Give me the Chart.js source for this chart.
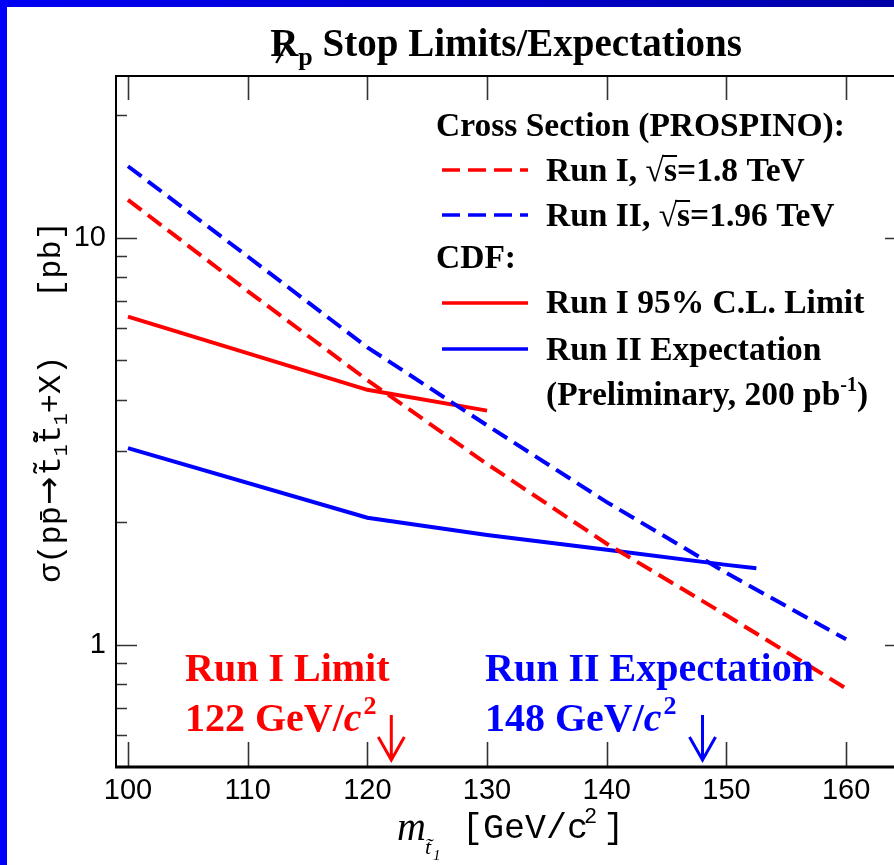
<!DOCTYPE html>
<html><head><meta charset="utf-8">
<script src="https://cdn.jsdelivr.net/npm/chart.js@4.4.0/dist/chart.umd.min.js"></script>
<style>
html,body{margin:0;padding:0;background:#fff;overflow:hidden;width:894px;height:865px;}
#wrap{position:absolute;left:0;top:0;width:910px;height:865px;}
#bl{position:absolute;left:0;top:0;width:7px;height:865px;background:#0000ff;z-index:2}
#bt{position:absolute;left:0;top:0;width:894px;height:7px;background:linear-gradient(to right,#0000f4,#0000a8);z-index:2}
</style></head><body>
<div id="wrap"><canvas id="c" width="910" height="865"></canvas></div>
<div id="bl"></div><div id="bt"></div>
<script>
// ---- data ----
const massXsec = [100, 110, 120, 130, 140, 150, 160];
const xsecRunI = [12.4, 7.4, 4.47, 2.78, 1.77, 1.18, 0.78];
const xsecRunII = [15.0, 9.0, 5.38, 3.46, 2.24, 1.50, 1.03];
const massLimitRunI = [100, 120, 130];
const limitRunI = [6.4, 4.23, 3.76];
const massExpRunII = [100, 120, 130, 140, 150, 152.5];
const expRunII = [3.04, 2.05, 1.86, 1.71, 1.57, 1.54];
const xTicks = [100, 110, 120, 130, 140, 150, 160];
const yMajorTicks = [1, 10];
const yMinorTicks = [0.6, 0.7, 0.8, 0.9, 2, 3, 4, 5, 6, 7, 8, 9, 20];
const massLimits = [122, 148];
const titleMain = 'Stop Limits/Expectations';
const legendHead1 = 'Cross Section (PROSPINO):';
const legendHead2 = 'CDF:';
const seriesLabels = ['Run I, √s=1.8 TeV', 'Run II, √s=1.96 TeV', 'Run I 95% C.L. Limit', 'Run II Expectation'];
const legendNote = '(Preliminary, 200 pb';
const annotLabels = ['Run I Limit', 'Run II Expectation'];

const RED = '#ff0000', BLUE = '#0000ff';
const SERIF = '"Liberation Serif", "Times New Roman", serif';
const SANS = '"Liberation Sans", Arial, sans-serif';
const MONO = '"Liberation Mono", "DejaVu Sans Mono", monospace';

function toXY(xs, ys){ return xs.map((x,i)=>({x:x, y:ys[i]})); }

function segWidth(ctx, segs){
  let w = 0;
  segs.forEach(s=>{ ctx.font = s.font; w += ctx.measureText(s.t).width + (s.dx||0); });
  return w;
}
function drawSegs(ctx, x, y, segs, color){
  ctx.fillStyle = color; ctx.textBaseline = 'alphabetic'; ctx.textAlign = 'left';
  let cx = x;
  const pos = [];
  segs.forEach(s=>{
    ctx.font = s.font;
    cx += (s.dx||0);
    ctx.fillText(s.t, cx, y + (s.dy||0));
    const w = ctx.measureText(s.t).width;
    pos.push({x:cx, w:w});
    cx += w;
  });
  return pos;
}

const decor = {
  id: 'decor',
  afterDatasetsDraw(chart){
    const ctx = chart.ctx, a = chart.chartArea;
    const xs = chart.scales.x, ys = chart.scales.y;
    ctx.save();
    ctx.strokeStyle = '#333'; ctx.lineWidth = 1.6;
    ctx.beginPath();
    xTicks.forEach(v=>{
      const px = Math.round(xs.getPixelForValue(v)) + 0.5;
      ctx.moveTo(px, a.bottom); ctx.lineTo(px, a.bottom - 25);
      ctx.moveTo(px, a.top); ctx.lineTo(px, a.top + 24);
    });
    yMajorTicks.forEach(v=>{
      const py = Math.round(ys.getPixelForValue(v)) + 0.5;
      ctx.moveTo(a.left, py); ctx.lineTo(a.left + 21, py);
      ctx.moveTo(a.right, py); ctx.lineTo(a.right - 21, py);
    });
    yMinorTicks.forEach(v=>{
      const py = Math.round(ys.getPixelForValue(v)) + 0.5;
      ctx.moveTo(a.left, py); ctx.lineTo(a.left + 11, py);
      ctx.moveTo(a.right, py); ctx.lineTo(a.right - 11, py);
    });
    ctx.stroke();
    ctx.strokeStyle = '#000';
    ctx.lineWidth = 2;
    ctx.beginPath();
    ctx.moveTo(a.left, a.bottom); ctx.lineTo(a.left, a.top); ctx.lineTo(a.right, a.top); ctx.lineTo(a.right, a.bottom);
    ctx.stroke();
    ctx.lineWidth = 3;
    ctx.beginPath(); ctx.moveTo(a.left - 1, a.bottom); ctx.lineTo(a.right, a.bottom); ctx.stroke();
    ctx.restore();
  },
  afterDraw(chart){
    const ctx = chart.ctx, a = chart.chartArea;
    const xs = chart.scales.x;
    ctx.save();
    // ---- title ----
    const tf = 'bold 39px ' + SERIF;
    const tsub = 'bold 26px ' + SERIF;
    const tsegs = [{t:'R', font:tf}, {t:'p', font:tsub, dy:9, dx:0}, {t:' ' + titleMain, font:tf}];
    const tw = segWidth(ctx, tsegs);
    const tx = 506 - tw/2, tyb = 56;
    const tp = drawSegs(ctx, tx, tyb, tsegs, '#000');
    ctx.strokeStyle = '#000'; ctx.lineWidth = 2.2;
    ctx.beginPath(); ctx.moveTo(tp[0].x + 6, tyb + 7); ctx.lineTo(tp[0].x + 19, tyb - 16); ctx.stroke();

    // ---- legend ----
    const lf = 'bold 33.5px ' + SERIF;
    const lsup = 'bold 20px ' + SERIF;
    drawSegs(ctx, 436, 136, [{t:legendHead1, font:lf}], '#000');
    drawSegs(ctx, 436, 268, [{t:legendHead2, font:lf}], '#000');
    const rows = [
      {y:181, ly:170, color:RED, dash:[18,8], label:seriesLabels[0]},
      {y:226, ly:215, color:BLUE, dash:[18,8], label:seriesLabels[1]},
      {y:313, ly:303, color:RED, dash:[], label:seriesLabels[2]},
      {y:360, ly:349, color:BLUE, dash:[], label:seriesLabels[3]}
    ];
    rows.forEach(r=>{
      ctx.strokeStyle = r.color; ctx.lineWidth = 3.5; ctx.setLineDash(r.dash);
      ctx.beginPath(); ctx.moveTo(442, r.ly); ctx.lineTo(528, r.ly); ctx.stroke();
      ctx.setLineDash([]);
      const k = r.label.indexOf('√s');
      if (k >= 0){
        const segs = [{t:r.label.slice(0,k+1), font:lf}, {t:'s', font:lf}, {t:r.label.slice(k+2), font:lf}];
        const p = drawSegs(ctx, 546, r.y, segs, '#000');
        ctx.strokeStyle = '#000'; ctx.lineWidth = 2;
        ctx.beginPath(); ctx.moveTo(p[1].x - 2, r.y - 25); ctx.lineTo(p[1].x + p[1].w, r.y - 25); ctx.stroke();
      } else {
        drawSegs(ctx, 546, r.y, [{t:r.label, font:lf}], '#000');
      }
    });
    drawSegs(ctx, 546, 405, [{t:legendNote, font:lf}, {t:'-1', font:lsup, dy:-14}, {t:')', font:lf}], '#000');

    // ---- annotations ----
    const af = 'bold 40px ' + SERIF;
    const afi = 'bold italic 40px ' + SERIF;
    const asup = 'bold 26px ' + SERIF;
    const colors = [RED, BLUE];
    const ax = [185, 485];
    massLimits.forEach((m,i)=>{
      drawSegs(ctx, ax[i], 681, [{t:annotLabels[i], font:af}], colors[i]);
      drawSegs(ctx, ax[i], 731, [{t:m + ' GeV/', font:af}, {t:'c', font:afi}, {t:'2', font:asup, dy:-17, dx:2}], colors[i]);
      const px = xs.getPixelForValue(m);
      ctx.strokeStyle = colors[i]; ctx.lineWidth = 3;
      ctx.beginPath();
      ctx.moveTo(px, a.bottom - 52); ctx.lineTo(px, a.bottom - 7);
      ctx.moveTo(px - 13, a.bottom - 30); ctx.lineTo(px, a.bottom - 7); ctx.lineTo(px + 13, a.bottom - 30);
      ctx.stroke();
    });

    // ---- x axis title ----
    const xb = 840;
    ctx.fillStyle = '#000'; ctx.textBaseline = 'alphabetic';
    ctx.font = 'italic 40px ' + SERIF; ctx.fillText('m', 397, xb);
    ctx.font = 'italic 22px ' + SERIF; ctx.fillText('t\u0303', 425, xb + 14);
    ctx.font = 'italic 15px ' + SERIF; ctx.fillText('1', 433, xb + 20);
    drawSegs(ctx, 462, xb - 2, [{t:'[GeV/c', font:'35px ' + MONO}, {t:'2', font:'22px ' + MONO, dy:-15, dx:-4}, {t:']', font:'35px ' + MONO, dx:6}], '#000');

    // ---- y axis title (rotated) ----
    const yf = '32px ' + MONO, ysb = '20px ' + MONO, yarr = '34px "DejaVu Sans", sans-serif';
    const ysegs = [
      {t:'σ(pp\u0304', font:yf}, {t:'→', font:yarr, dx:1},
      {t:'t\u0303', font:yf, dx:1}, {t:'1', font:ysb, dy:7},
      {t:'t\u0303\u0304', font:yf}, {t:'1', font:ysb, dy:7},
      {t:'+X)   [pb]', font:yf}
    ];
    const yw = segWidth(ctx, ysegs);
    ctx.save();
    ctx.translate(60, 402); ctx.rotate(-Math.PI/2);
    drawSegs(ctx, -yw/2, 0, ysegs, '#000');
    ctx.restore();

    ctx.restore();
  }
};

const chart = new Chart(document.getElementById('c').getContext('2d'), {
  type: 'line',
  data: {
    datasets: [
      {label: seriesLabels[0], data: toXY(massXsec, xsecRunI), borderColor: RED, borderWidth: 4, borderDash: [17, 8], pointRadius: 0, fill: false, tension: 0},
      {label: seriesLabels[1], data: toXY(massXsec, xsecRunII), borderColor: BLUE, borderWidth: 4, borderDash: [17, 8], pointRadius: 0, fill: false, tension: 0},
      {label: seriesLabels[2], data: toXY(massLimitRunI, limitRunI), borderColor: RED, borderWidth: 4, pointRadius: 0, fill: false, tension: 0},
      {label: seriesLabels[3], data: toXY(massExpRunII, expRunII), borderColor: BLUE, borderWidth: 4, pointRadius: 0, fill: false, tension: 0}
    ]
  },
  options: {
    responsive: false, animation: false, devicePixelRatio: 1,
    layout: {padding: {left: 0, right: 4, top: 76, bottom: 0}},
    plugins: {legend: {display: false}, title: {display: false}, tooltip: {enabled: false}},
    scales: {
      x: {
        type: 'linear', min: 99, max: 165,
        grid: {display: false, drawTicks: false}, border: {display: false},
        ticks: {font: {family: SANS, size: 29}, color: '#000', padding: 7, maxRotation: 0, autoSkip: false},
        afterBuildTicks: s => { s.ticks = xTicks.map(v => ({value: v})); },
        afterFit: s => { s.height = 98; }
      },
      y: {
        type: 'logarithmic', min: 0.5, max: 25,
        grid: {display: false, drawTicks: false}, border: {display: false},
        ticks: {font: {family: SANS, size: 29}, color: '#000', padding: 10, autoSkip: false, callback: v => String(v)},
        afterBuildTicks: s => { s.ticks = yMajorTicks.map(v => ({value: v})); },
        afterFit: s => { s.width = 116; }
      }
    }
  },
  plugins: [decor]
});
</script>
</body></html>
